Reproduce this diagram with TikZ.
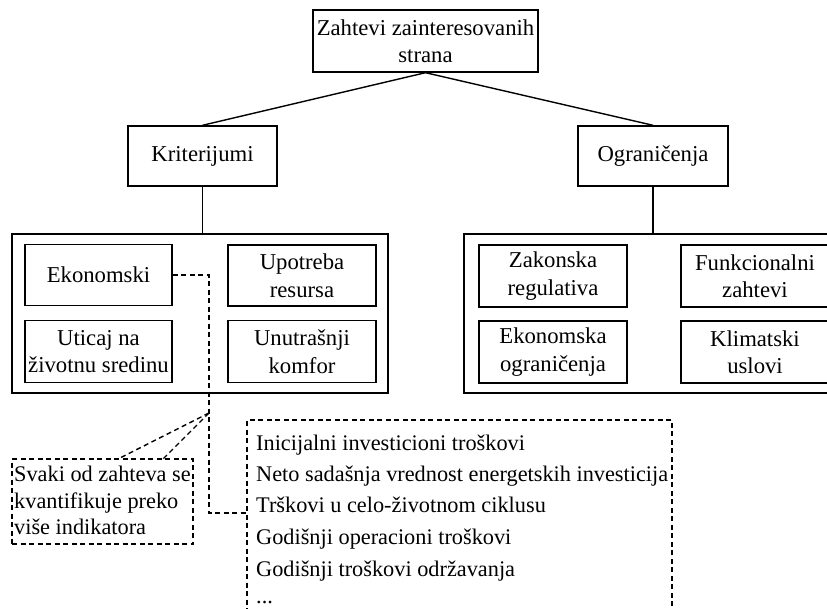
\documentclass[tikz,border=0pt]{standalone}
\usepackage{fontspec}
\setmainfont{Liberation Serif}
\newcommand\boxfont{\fontsize{22.7}{27.5}\selectfont}
\newcommand\listfont{\fontsize{22.3}{26}\selectfont}
\begin{document}
\begin{tikzpicture}[x=1pt,y=-1pt,
  solidln/.style={line width=1.4pt},
  dsh/.style={line width=1.4pt, dash pattern=on 5pt off 3.5pt},
  box/.style={draw, solidln, rectangle, minimum width=148pt, minimum height=61pt,
    align=center, font=\boxfont, inner sep=1pt},
  bigbox/.style={draw, solidln, rectangle, minimum width=376pt, minimum height=159pt, inner sep=0pt},
  dbox/.style={draw, dsh, rectangle, inner sep=0pt},
  ltext/.style={anchor=base west, font=\listfont, inner sep=0pt}]
\useasboundingbox (0,0) rectangle (827,609);
\clip (0,0) rectangle (827,609);

% top levels
\node[box, minimum width=225pt, minimum height=62pt] (top) at (425.5,41) {Zahtevi zainteresovanih\\strana};
\node[box, minimum width=149pt, minimum height=60pt] (krit) at (202.5,156) {Kriterijumi};
\node[box, minimum width=150pt, minimum height=60pt] (ogr) at (653,156) {Ograničenja};

% big containers
\node[bigbox] (lbig) at (200,313.5) {};
\node[bigbox, minimum width=378pt] (rbig) at (653,313.5) {};

% inner boxes left
\node[box, minimum width=147pt] (ekon) at (98.5,275) {Ekonomski};
\node[box] (upot) at (302,275.5) {Upotreba\\resursa};
\node[box, minimum width=147pt, minimum height=62pt] (utic) at (98.5,351.5) {Uticaj na\\životnu sredinu};
\node[box, minimum height=62pt] (unut) at (302,351.5) {Unutrašnji\\komfor};

% inner boxes right
\node[box, minimum height=62pt] (zak) at (553,276) {Zakonska\\regulativa};
\node[box, minimum height=62pt] (funk) at (755,276) {Funkcionalni\\zahtevi};
\node[box, minimum height=62pt] (ekog) at (553,352) {Ekonomska\\ograničenja};
\node[box, minimum height=62pt] (klim) at (755,352) {Klimatski\\uslovi};

% connectors
\draw[solidln] (top.south) -- (krit.north);
\draw[solidln] (top.south) -- (ogr.north);
\draw[solidln] (krit.south) -- (krit.south |- lbig.north);
\draw[solidln] (ogr.south) -- (ogr.south |- rbig.north);

% dashed note box
\node[dbox, minimum width=181pt, minimum height=85pt] (svaki) at (102.5,501.5) {};
\node[ltext] (s1) at (14,481.7) {Svaki od zahteva se};
\node[ltext] (s2) at (14,508) {kvantifikuje preko};
\node[ltext] (s3) at (14,534) {više indikatora};

% dashed list box
\node[dbox, minimum width=425pt, minimum height=220pt] (list) at (459.5,530) {};
\node[ltext] (l1) at (256,450) {Inicijalni investicioni troškovi};
\node[ltext] (l2) at (256,481.5) {Neto sadašnja vrednost energetskih investicija};
\node[ltext] (l3) at (256,512) {Trškovi u celo-životnom ciklusu};
\node[ltext] (l4) at (256,544.5) {Godišnji operacioni troškovi};
\node[ltext] (l5) at (256,576.5) {Godišnji troškovi održavanja};
\node[ltext] (l6) at (256,603.5) {...};

% dashed connectors
\coordinate (jx) at (209,413);
\coordinate (jb) at (209,513);
\coordinate (sa) at (118,459);
\coordinate (sb) at (163,459);
\draw[dsh] (ekon.east) -| (jb) -- (list.west |- jb);
\draw[dsh] (jx) -- (sa);
\draw[dsh] (jx) -- (sb);
\end{tikzpicture}
\end{document}
